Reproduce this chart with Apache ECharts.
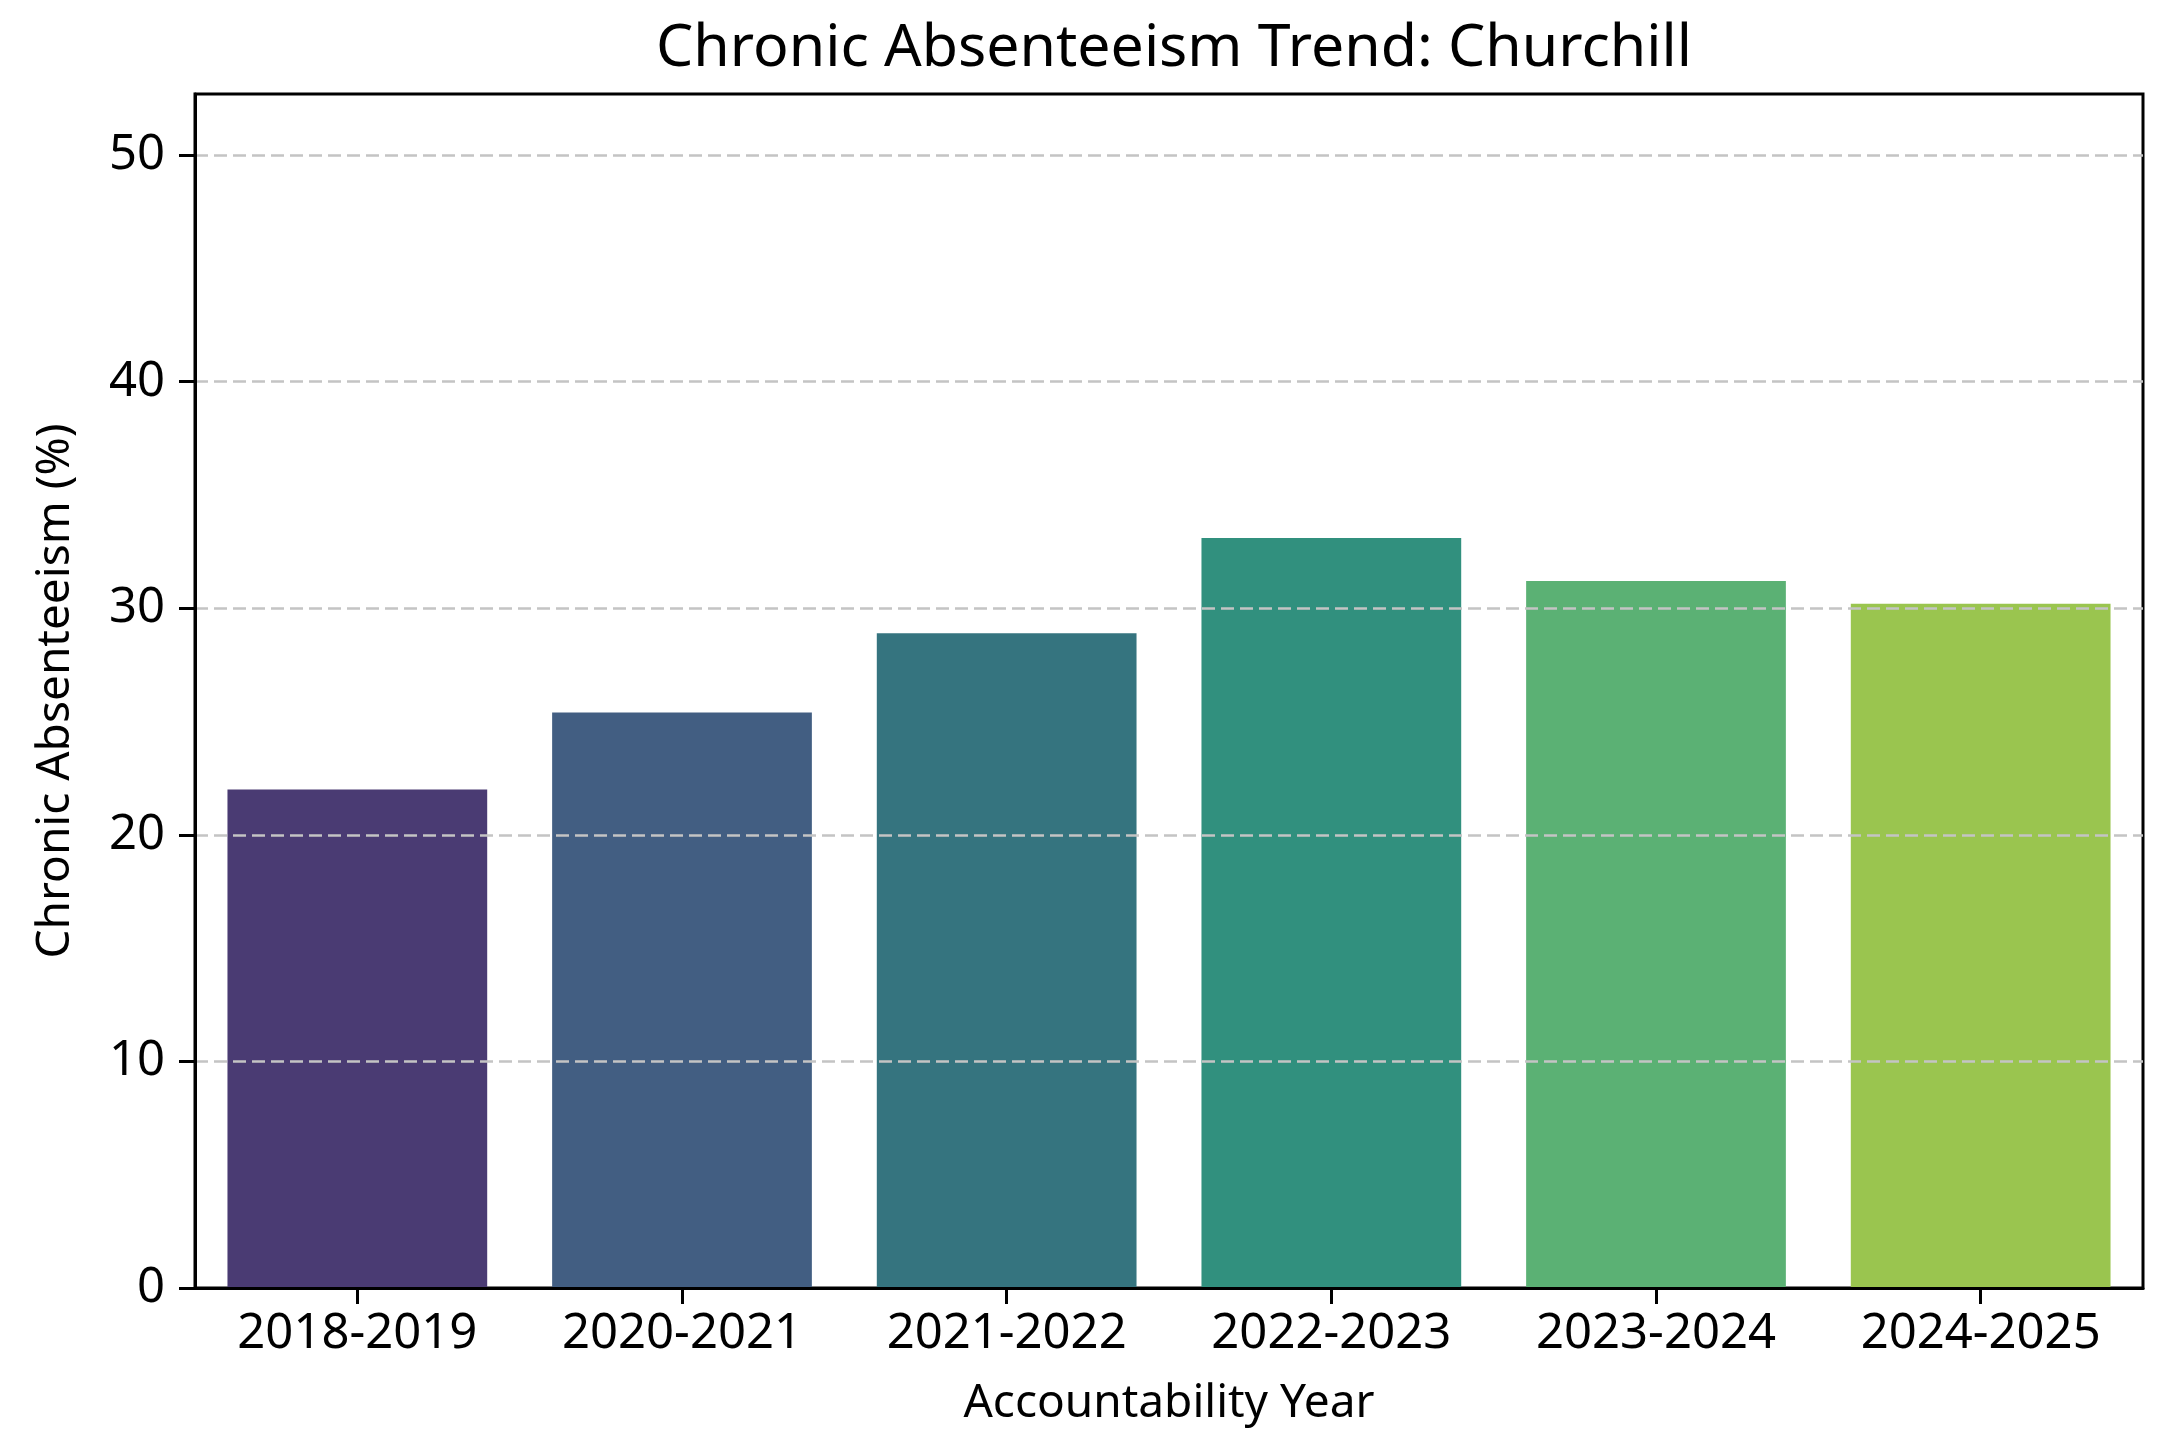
<!DOCTYPE html>
<html>
<head>
<meta charset="utf-8">
<script src="https://cdn.jsdelivr.net/npm/echarts@6/dist/echarts.min.js"></script>
<style>
  html, body { margin: 0; padding: 0; background: #fff; }
  #main { width: 2157px; height: 1439px; }
</style>
</head>
<body>
<div id="main"></div>
<script>
// data
var years = ['2018-2019', '2020-2021', '2021-2022', '2022-2023', '2023-2024', '2024-2025'];
var absenteeism = [22.0, 25.4, 28.9, 33.1, 31.2, 30.2];
var barColors = ['#4a3b73', '#425e82', '#35747f', '#31907e', '#5bb174', '#9ac54f'];
var yTicks = [0, 10, 20, 30, 40, 50];

var font = 'Noto Sans';

var chart = echarts.init(document.getElementById('main'));

chart.setOption({
  animation: false,
  backgroundColor: '#fff',
  title: {
    text: 'Chronic Absenteeism Trend: Churchill',
    left: 1169,          // centred over the plot area, not the canvas
    textAlign: 'center',
    top: 15,
    textStyle: { fontFamily: font, fontSize: 59, fontWeight: 'normal', color: '#000' }
  },
  grid: {
    left: 195,
    right: 14,
    top: 94,
    bottom: 151,
    show: true,
    borderColor: '#000',
    borderWidth: 3,
    backgroundColor: 'transparent'
  },
  xAxis: {
    type: 'category',
    data: years,
    z: 4,
    name: 'Accountability Year',
    nameLocation: 'middle',
    nameGap: 93,
    nameTextStyle: { fontFamily: font, fontSize: 46, color: '#000' },
    axisLine: { show: true, lineStyle: { color: '#000', width: 3 } },
    axisTick: { show: true, inside: false, alignWithLabel: true, length: 16, lineStyle: { color: '#000', width: 3 } },
    axisLabel: { fontFamily: font, fontSize: 49, color: '#000', margin: 22 }
  },
  yAxis: {
    type: 'value',
    min: 0,
    max: 52.7,
    interval: 10,
    z: 3,
    name: 'Chronic Absenteeism (%)',
    nameLocation: 'middle',
    nameGap: 116,
    nameTextStyle: { fontFamily: font, fontSize: 46, color: '#000' },
    axisLine: { show: true, lineStyle: { color: '#000', width: 3 } },
    axisTick: { show: true, length: 16, customValues: yTicks, lineStyle: { color: '#000', width: 3 } },
    axisLabel: { fontFamily: font, fontSize: 49, color: '#000', margin: 30, customValues: yTicks },
    splitLine: {
      show: true,
      showMinLine: false,
      lineStyle: { color: '#c4c4c4', width: 2.5, type: [13, 6] }
    }
  },
  series: [{
    type: 'bar',
    data: absenteeism.map(function (v, i) {
      return { value: v, itemStyle: { color: barColors[i] } };
    }),
    barCategoryGap: '20%'
  }]
});
</script>
</body>
</html>
